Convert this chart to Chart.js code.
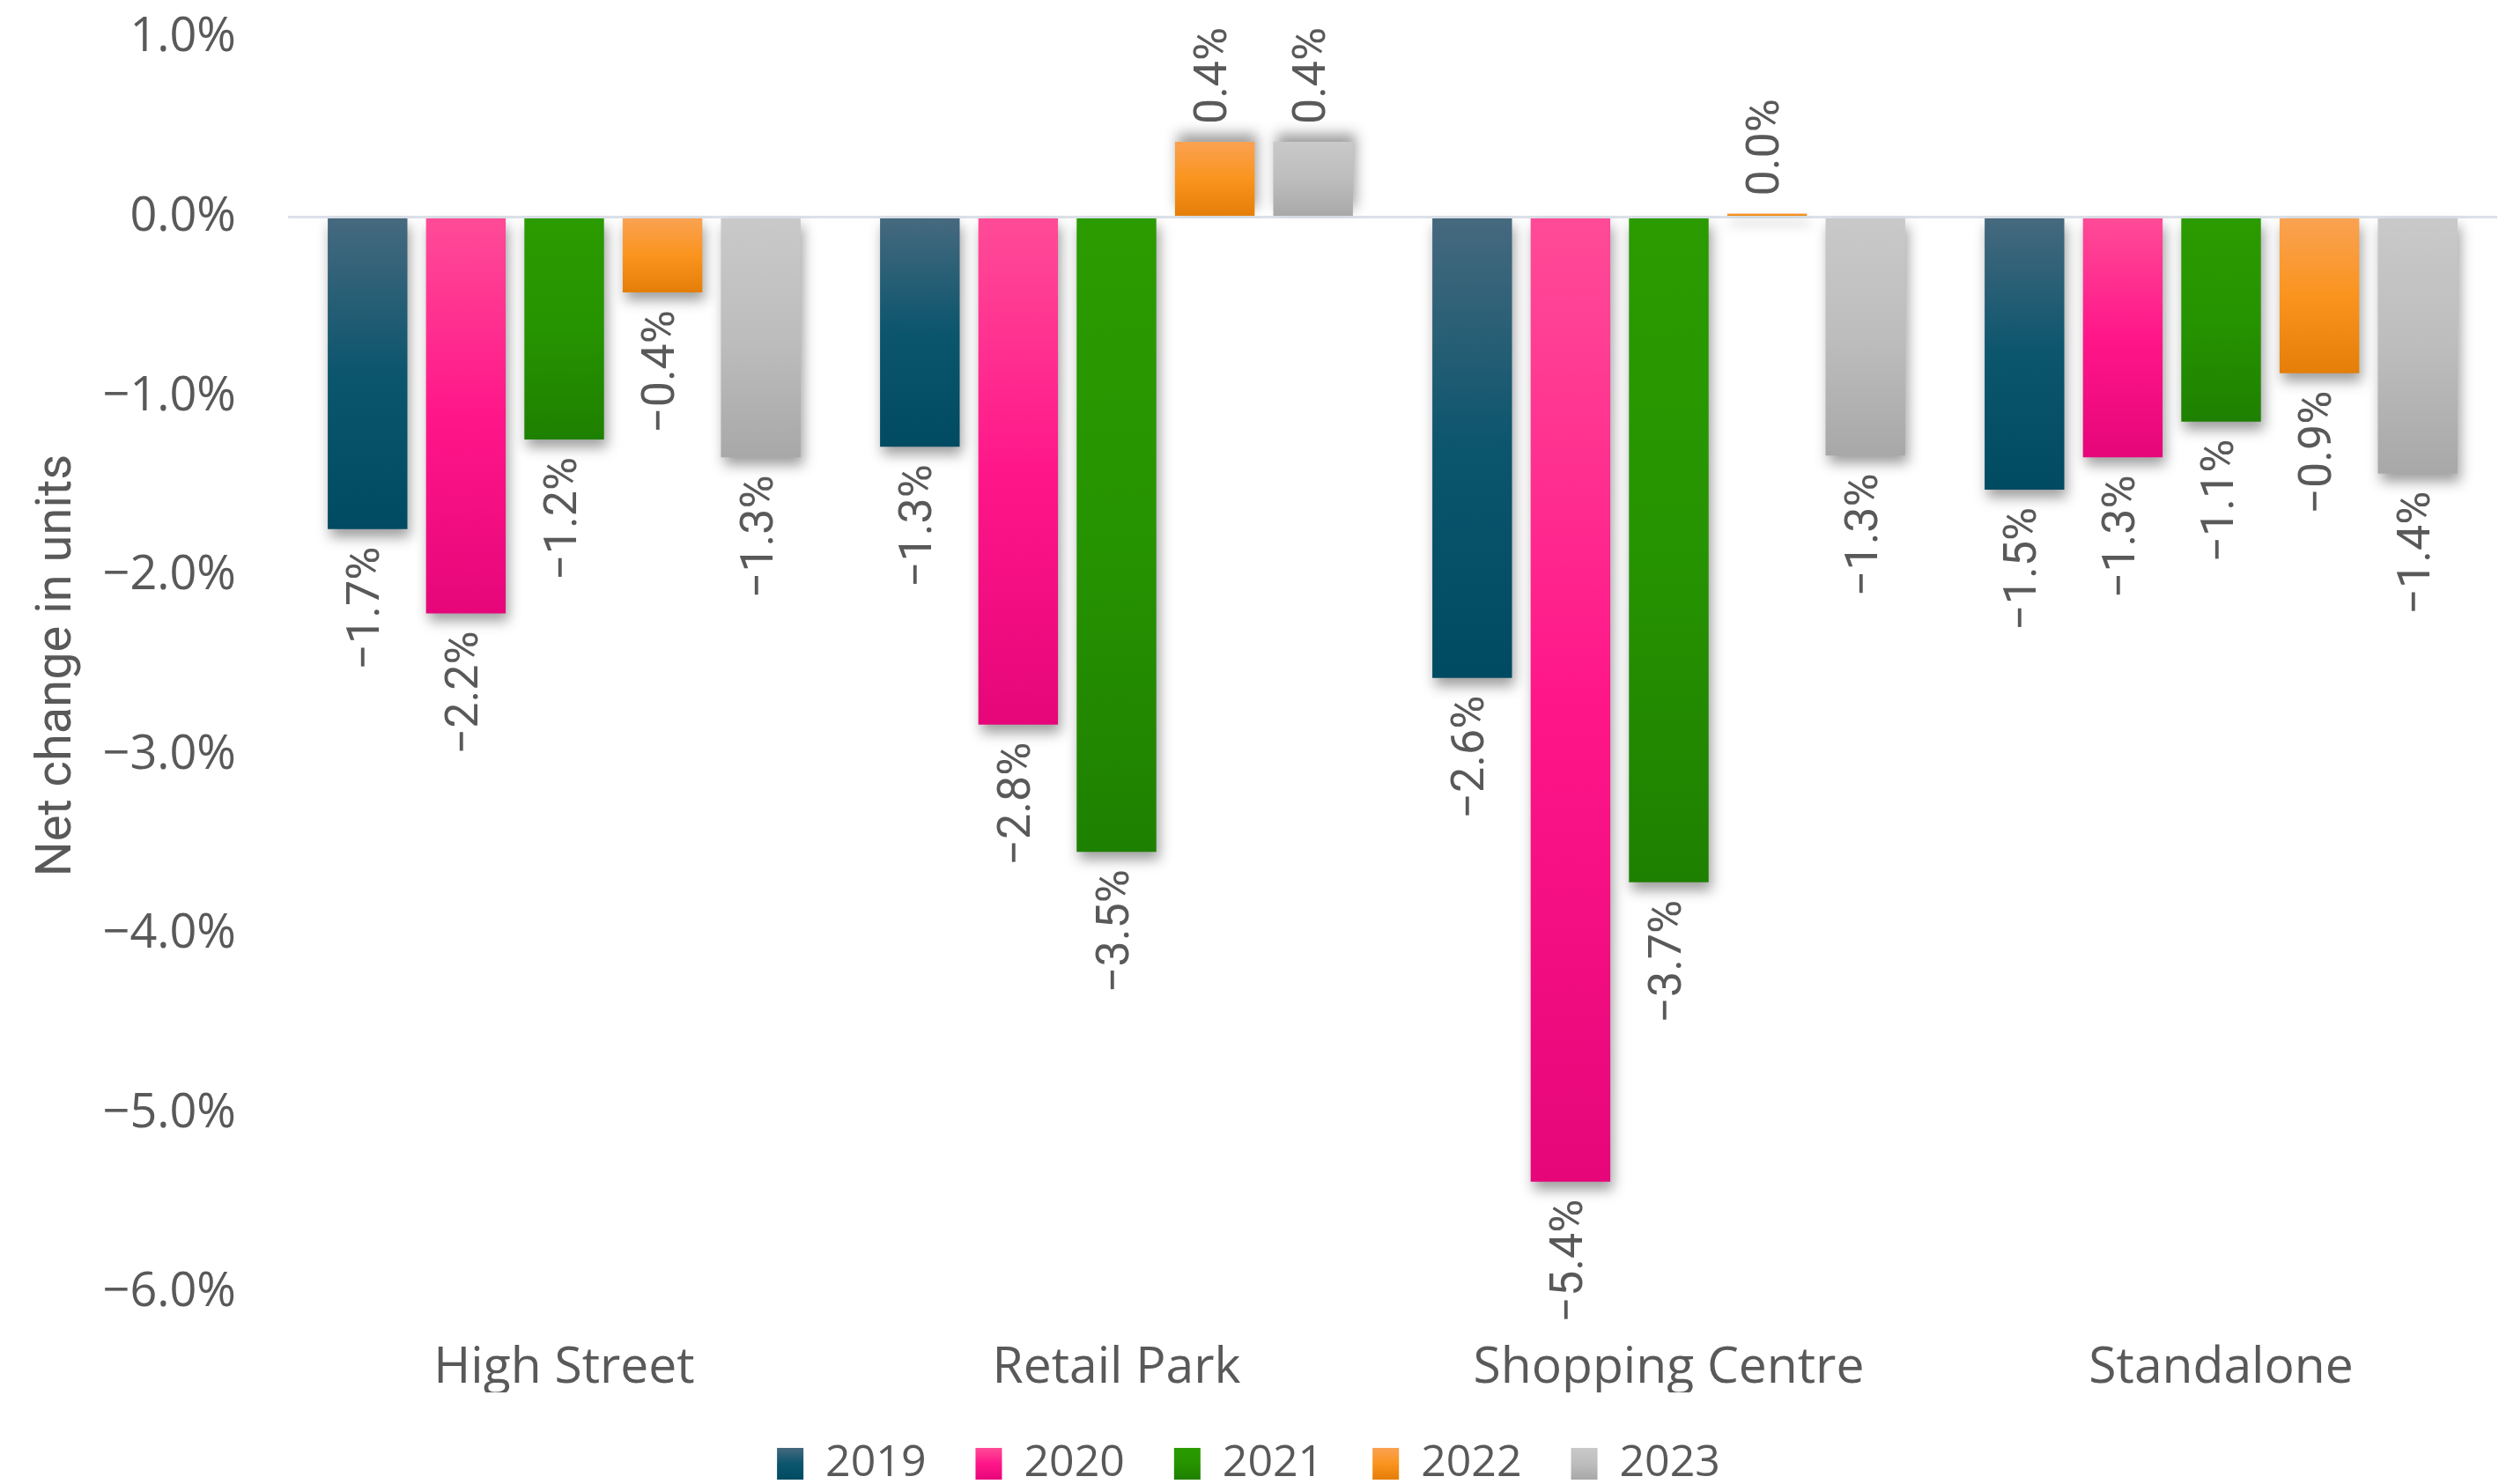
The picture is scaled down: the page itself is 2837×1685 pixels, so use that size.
<!DOCTYPE html>
<html>
<head>
<meta charset="utf-8">
<script src="https://cdn.jsdelivr.net/npm/chart.js@4/dist/chart.umd.min.js"></script>
<style>
  html, body { margin: 0; padding: 0; background: #fff; }
  #wrap { width: 2837px; height: 1685px; }
</style>
</head>
<body>
<div id="wrap"><canvas id="chart" width="2837" height="1685"></canvas></div>
<script>
// net change in units by location type
var categories = ['High Street', 'Retail Park', 'Shopping Centre', 'Standalone'];
var years = ['2019', '2020', '2021', '2022', '2023'];
var v2019 = [-1.74, -1.28, -2.57, -1.52];
var v2020 = [-2.21, -2.83, -5.38, -1.34];
var v2021 = [-1.24, -3.54, -3.71, -1.14];
var v2022 = [-0.42, 0.42, 0.02, -0.87];
var v2023 = [-1.34, 0.42, -1.33, -1.43];
var yTicks = [1, 0, -1, -2, -3, -4, -5, -6];

var series = [v2019, v2020, v2021, v2022, v2023];
var stops = [
  ['#46697E', '#0B556D', '#004A62'],
  ['#FF4B97', '#FF1689', '#E6067A'],
  ['#2B9B00', '#269300', '#1E8000'],
  ['#FAA252', '#FA941E', '#E47E08'],
  ['#C9C9C9', '#BDBDBD', '#A8A8A8']
];
var textCol = '#595959';

function fmt(v) {
  return (v < 0 ? '\u2212' : '') + Math.abs(v).toFixed(1) + '%';
}

function vGrad(ctx, s, top, bot) {
  var g = ctx.createLinearGradient(0, top, 0, bot);
  g.addColorStop(0, s[0]);
  g.addColorStop(0.5, s[1]);
  g.addColorStop(1, s[2]);
  return g;
}

// draws each bar with its own gradient and a drop shadow
var shadowPlugin = {
  id: 'barShadow',
  beforeDatasetDraw: function(chart, args) {
    var ctx = chart.ctx;
    var data = chart.data.datasets[args.index].data;
    var s = stops[args.index];
    args.meta.data.forEach(function(el, i) {
      var top = Math.min(el.y, el.base), bot = Math.max(el.y, el.base);
      if (isFinite(top) && isFinite(bot) && bot - top > 2) {
        el.options.backgroundColor = vGrad(ctx, s, top, bot);
      } else {
        el.options.backgroundColor = s[1];
      }
      ctx.save();
      ctx.shadowColor = 'rgba(0,0,0,0.38)';
      ctx.shadowBlur = 14;
      ctx.shadowOffsetX = 3;
      ctx.shadowOffsetY = data[i] >= 0.1 ? -9 : 9;
      el.draw(ctx);
      ctx.restore();
    });
    return false;
  }
};

var labelPlugin = {
  id: 'barLabels',
  afterDatasetsDraw: function(chart) {
    var ctx = chart.ctx;
    ctx.save();
    ctx.font = '52px Roboto';
    ctx.fillStyle = textCol;
    ctx.textBaseline = 'middle';
    chart.data.datasets.forEach(function(ds, di) {
      chart.getDatasetMeta(di).data.forEach(function(el, i) {
        var v = ds.data[i];
        var off = 20;
        ctx.save();
        ctx.translate(el.x, v < 0 ? el.y + off : el.y - off);
        ctx.rotate(-Math.PI / 2);
        ctx.textAlign = v < 0 ? 'right' : 'left';
        ctx.fillText(fmt(v), 0, 0);
        ctx.restore();
      });
    });
    ctx.restore();
  }
};

// repaint legend swatches with the same gradients as the bars
var legendSwatch = {
  id: 'legendSwatch',
  afterDraw: function(chart) {
    var lg = chart.legend;
    if (!lg || !lg.legendHitBoxes) return;
    var ctx = chart.ctx;
    var bw = lg.options.labels.boxWidth, bh = lg.options.labels.boxHeight;
    lg.legendHitBoxes.forEach(function(hb, i) {
      var y = hb.top + (hb.height - bh) / 2;
      ctx.fillStyle = '#fff';
      ctx.fillRect(hb.left - 1, y - 1, bw + 2, bh + 2);
      ctx.fillStyle = vGrad(ctx, stops[i], y, y + bh);
      ctx.fillRect(hb.left, y, bw, bh);
    });
  }
};

var ctx = document.getElementById('chart').getContext('2d');
var chart = new Chart(ctx, {
  type: 'bar',
  data: {
    labels: categories,
    datasets: years.map(function(y, k) {
      return {
        label: y,
        data: series[k],
        backgroundColor: stops[k][1],
        borderWidth: 0,
        categoryPercentage: 0.89,
        barPercentage: 0.81
      };
    })
  },
  options: {
    responsive: false,
    animation: false,
    layout: { padding: { top: 43, right: 2, bottom: -12, left: 0 } },
    plugins: {
      tooltip: { enabled: false },
      legend: {
        position: 'bottom',
        labels: {
          color: textCol,
          font: { family: 'Open Sans', size: 50 },
          boxWidth: 30,
          boxHeight: 36,
          padding: 56
        }
      }
    },
    scales: {
      x: {
        grid: { display: false },
        border: { display: false },
        ticks: { color: textCol, font: { family: 'Open Sans', size: 57 }, padding: 44 },
        afterFit: function(s) { s.height = 113; }
      },
      y: {
        min: -6,
        max: 1,
        afterBuildTicks: function(s) { s.ticks = yTicks.map(function(v) { return { value: v }; }); },
        border: { display: false },
        grid: {
          drawTicks: false,
          lineWidth: 3,
          color: function(c) { return c.tick && c.tick.value === 0 ? '#DCE1E9' : 'rgba(0,0,0,0)'; }
        },
        ticks: {
          color: textCol,
          font: { family: 'Open Sans', size: 54 },
          padding: 59,
          callback: function(v) { return fmt(v); }
        },
        title: {
          display: true,
          text: 'Net change in units',
          color: textCol,
          font: { family: 'Roboto', size: 56 },
          padding: { top: 32, bottom: 0 }
        },
        afterFit: function(s) {
          s.width = 327;
          s.paddingTop = 0;
          s.paddingBottom = 0;
        }
      }
    }
  },
  plugins: [shadowPlugin, labelPlugin, legendSwatch]
});
</script>
</body>
</html>
